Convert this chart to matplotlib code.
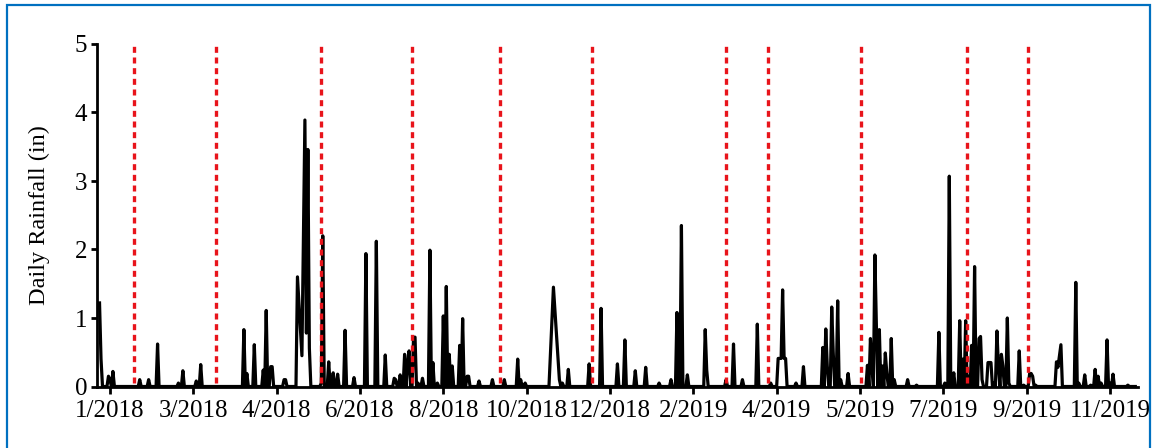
import numpy as np
import pandas as pd
import matplotlib.pyplot as plt
from matplotlib.patches import Rectangle

plt.rcParams['font.family'] = 'Liberation Serif'

# day 0 = 1/1/2018
start = pd.Timestamp('2018-01-01')
last_day = 696

# daily rainfall (in) on days with rain
rain_day = [0, 1, 6, 7, 9, 27, 33, 39, 53, 56, 65, 68,
            97, 99, 104, 110, 112, 115, 116, 124, 125, 133, 136, 138, 139, 140, 141,
            149, 150, 154, 157, 160, 165, 171, 179, 186, 192, 198, 199, 202, 205, 207,
            208, 211, 212, 214, 217, 222, 224, 227, 231, 233, 235, 237, 242, 244, 247,
            248, 255, 264, 272, 281, 283, 286, 305, 309, 311, 315, 329, 337, 348, 353,
            360, 367, 376, 384, 388, 391, 395, 407, 408, 421, 426, 432, 442, 451, 456,
            457, 458, 459, 460, 461, 468, 473, 486, 488, 489, 492, 493, 496, 498, 503,
            516, 518, 519, 521, 522, 524, 526, 528, 529, 532, 534, 543, 549, 564, 568,
            571, 574, 578, 580, 582, 584, 586, 588, 591, 592, 593, 597, 598, 599, 601,
            603, 604, 606, 607, 610, 611, 618, 621, 625, 626, 627, 629, 643, 644, 645,
            646, 656, 658, 662, 666, 669, 671, 673, 677, 679, 681, 691]
rain_in = [1.22, 0.40, 0.15, 0.10, 0.22, 0.10, 0.10, 0.62, 0.05, 0.23, 0.08, 0.32,
           0.83, 0.19, 0.61, 0.24, 1.11, 0.29, 0.29, 0.10, 0.10, 1.60, 0.45, 3.89, 0.78, 3.46, 0.56,
           0.05, 2.20, 0.36, 0.20, 0.18, 0.82, 0.13, 1.94, 2.12, 0.46, 0.12, 0.10, 0.17, 0.47, 0.35,
           0.52, 0.72, 0.72, 0.05, 0.12, 1.99, 0.35, 0.05, 1.03, 1.46, 0.47, 0.30, 0.60, 0.99, 0.15,
           0.15, 0.08, 0.10, 0.10, 0.40, 0.10, 0.05, 1.45, 0.10, 0.05, 0.25, 0.33, 1.14, 0.33, 0.68,
           0.23, 0.28, 0.05, 0.10, 1.08, 2.35, 0.17, 0.83, 0.24, 0.10, 0.62, 0.10, 0.91, 0.05, 0.41,
           0.41, 0.41, 1.41, 0.41, 0.41, 0.05, 0.29, 0.57, 0.84, 0.30, 1.16, 0.50, 1.25, 0.10, 0.19,
           0.31, 0.70, 0.30, 1.92, 0.90, 0.83, 0.30, 0.49, 0.20, 0.70, 0.10, 0.10, 0.02, 0.79, 0.05,
           3.07, 0.20, 0.96, 0.40, 0.96, 0.15, 0.60, 1.75, 0.70, 0.73, 0.10, 0.35, 0.35, 0.35, 0.05,
           0.81, 0.30, 0.47, 0.30, 1.00, 0.05, 0.52, 0.02, 0.19, 0.19, 0.15, 0.02, 0.36, 0.28, 0.45,
           0.61, 1.52, 0.05, 0.17, 0.02, 0.25, 0.15, 0.05, 0.68, 0.05, 0.18, 0.02]

# days without a gauge record
no_record = [134, 135, 137, 303, 304, 306, 307, 308]

# sampling events
sample_day = [23, 78, 149, 210, 269, 331, 421, 449, 512, 583, 624]

# axis ticks every 8 weeks
tick_day = [7, 63, 119, 175, 231, 287, 343, 399, 455, 511, 567, 623, 679]

rain = pd.Series(0.0, index=range(last_day + 1))
rain[rain_day] = rain_in
rain = rain.drop(no_record)

fig = plt.figure(figsize=(11.56, 4.48), dpi=100)
ax = fig.add_axes([97 / 1156, 1 - 386.5 / 448, (1138 - 97) / 1156, (386.5 - 44) / 448])

ax.plot(rain.index, rain.values, color='black', lw=2.3, zorder=2, clip_on=False)
ax.vlines(sample_day, 0.05, 4.98, colors='#e8141b', linestyles=(0, (1.8, 1.4)),
          lw=2.4, zorder=3)

ax.set_xlim(-1.7, 697.8)
ax.set_ylim(0, 5)
ax.set_yticks(range(6))
ax.set_xticks(tick_day)
ax.set_xticklabels([f'{d.month}/{d.year}' for d in
                    (start + pd.Timedelta(days=t) for t in tick_day)])

for s in ['top', 'right']:
    ax.spines[s].set_visible(False)
for s in ['left', 'bottom']:
    ax.spines[s].set_linewidth(2.0)
ax.tick_params(axis='both', width=2.0, labelsize=18, colors='black')
ax.tick_params(axis='y', length=4, pad=3)
ax.tick_params(axis='x', length=5, pad=5)

ax.set_ylabel('Daily Rainfall (in)', fontsize=17.5)
ax.yaxis.set_label_coords(-0.045, 0.5)

# blue frame round the figure
fig.patches.append(Rectangle((7 / 1156, -0.1), (1150 - 7) / 1156, 1.1 - 5 / 448,
                             transform=fig.transFigure, fill=False,
                             edgecolor='#0070c0', lw=1.6))

plt.savefig('out.png', dpi=100)
